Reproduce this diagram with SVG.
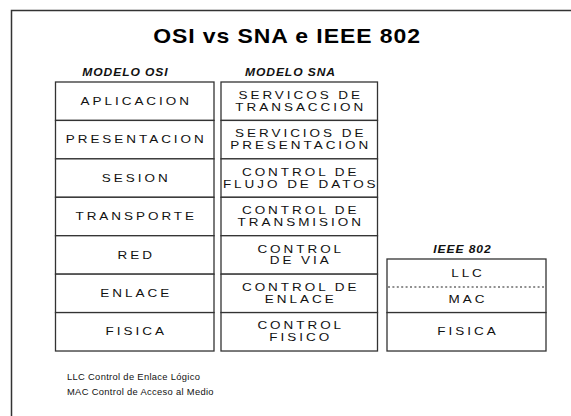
<svg xmlns="http://www.w3.org/2000/svg" width="571" height="416" viewBox="0 0 571 416">
<style>
.bg{fill:#fff}
.frame{fill:none;stroke:#333;stroke-width:1.5}
.cell{fill:#fff;stroke:#333;stroke-width:1.3}
.dot{stroke:#222;stroke-width:1.2;stroke-dasharray:2 2.4;fill:none}
.t{font-family:"Liberation Sans",Arial,sans-serif;font-size:10px;letter-spacing:2.2px;fill:#111;text-anchor:middle}
.h{font-family:"Liberation Sans",Arial,sans-serif;font-size:10.5px;font-weight:bold;font-style:italic;letter-spacing:0.8px;fill:#111;text-anchor:middle}
.title{font-family:"Liberation Sans",Arial,sans-serif;font-size:20px;font-weight:bold;letter-spacing:0.8px;fill:#000;text-anchor:middle}
.f{font-family:"Liberation Sans",Arial,sans-serif;font-size:8.5px;letter-spacing:0.3px;fill:#111}
</style>
<rect class="bg" x="0" y="0" width="571" height="416"/>
<path class="frame" d="M11.5,416 V10.5 H571"/>
<text class="title" transform="translate(287,43) scale(1.15,1)">OSI vs SNA e IEEE 802</text>

<g id="osi">
<text class="h" transform="translate(125,76) scale(1.15,1)" x="0.4">MODELO OSI</text>
<g id="osi-aplicacion"><rect class="cell" x="55.5" y="82" width="158.5" height="38.43"/><text class="t" transform="translate(134.75,104.8) scale(1.35,1)" x="1.1">APLICACION</text></g>
<g id="osi-presentacion"><rect class="cell" x="55.5" y="120.43" width="158.5" height="38.43"/><text class="t" transform="translate(134.75,143.25) scale(1.35,1)" x="1.1">PRESENTACION</text></g>
<g id="osi-sesion"><rect class="cell" x="55.5" y="158.86" width="158.5" height="38.43"/><text class="t" transform="translate(134.75,181.7) scale(1.35,1)" x="1.1">SESION</text></g>
<g id="osi-transporte"><rect class="cell" x="55.5" y="197.29" width="158.5" height="38.43"/><text class="t" transform="translate(134.75,220.1) scale(1.35,1)" x="1.1">TRANSPORTE</text></g>
<g id="osi-red"><rect class="cell" x="55.5" y="235.72" width="158.5" height="38.43"/><text class="t" transform="translate(134.75,258.5) scale(1.35,1)" x="1.1">RED</text></g>
<g id="osi-enlace"><rect class="cell" x="55.5" y="274.15" width="158.5" height="38.43"/><text class="t" transform="translate(134.75,296.95) scale(1.35,1)" x="1.1">ENLACE</text></g>
<g id="osi-fisica"><rect class="cell" x="55.5" y="312.58" width="158.5" height="38.43"/><text class="t" transform="translate(134.75,335.4) scale(1.35,1)" x="1.1">FISICA</text></g>
</g>

<g id="sna">
<text class="h" transform="translate(290,76) scale(1.15,1)" x="0.4">MODELO SNA</text>
<g id="sna-transaccion"><rect class="cell" x="221" y="82" width="156.5" height="38.43"/><text class="t" transform="translate(299.25,98.8) scale(1.35,1)" x="1.1">SERVICOS DE</text><text class="t" transform="translate(299.25,110.6) scale(1.35,1)" x="1.1">TRANSACCION</text></g>
<g id="sna-presentacion"><rect class="cell" x="221" y="120.43" width="156.5" height="38.43"/><text class="t" transform="translate(299.25,137.25) scale(1.35,1)" x="1.1">SERVICIOS DE</text><text class="t" transform="translate(299.25,149.05) scale(1.35,1)" x="1.1">PRESENTACION</text></g>
<g id="sna-flujo"><rect class="cell" x="221" y="158.86" width="156.5" height="38.43"/><text class="t" transform="translate(299.25,175.7) scale(1.35,1)" x="1.1">CONTROL DE</text><text class="t" transform="translate(299.25,187.5) scale(1.35,1)" x="1.1">FLUJO DE DATOS</text></g>
<g id="sna-transmision"><rect class="cell" x="221" y="197.29" width="156.5" height="38.43"/><text class="t" transform="translate(299.25,214.1) scale(1.35,1)" x="1.1">CONTROL DE</text><text class="t" transform="translate(299.25,225.9) scale(1.35,1)" x="1.1">TRANSMISION</text></g>
<g id="sna-via"><rect class="cell" x="221" y="235.72" width="156.5" height="38.43"/><text class="t" transform="translate(299.25,252.5) scale(1.35,1)" x="1.1">CONTROL</text><text class="t" transform="translate(299.25,264.3) scale(1.35,1)" x="1.1">DE  VIA</text></g>
<g id="sna-enlace"><rect class="cell" x="221" y="274.15" width="156.5" height="38.43"/><text class="t" transform="translate(299.25,290.95) scale(1.35,1)" x="1.1">CONTROL DE</text><text class="t" transform="translate(299.25,302.75) scale(1.35,1)" x="1.1">ENLACE</text></g>
<g id="sna-fisico"><rect class="cell" x="221" y="312.58" width="156.5" height="38.43"/><text class="t" transform="translate(299.25,329.4) scale(1.35,1)" x="1.1">CONTROL</text><text class="t" transform="translate(299.25,341.2) scale(1.35,1)" x="1.1">FISICO</text></g>
</g>

<g id="ieee">
<text class="h" transform="translate(462,253) scale(1.15,1)" x="0.4">IEEE 802</text>
<g id="ieee-llc-mac"><rect class="cell" x="387" y="259" width="159" height="53.58"/><text class="t" transform="translate(466.5,276.5) scale(1.35,1)" x="1.1">LLC</text><text class="t" transform="translate(466.5,303.3) scale(1.35,1)" x="1.1">MAC</text></g>
<g id="ieee-fisica"><rect class="cell" x="387" y="312.58" width="159" height="38.43"/><text class="t" transform="translate(466.5,335.4) scale(1.35,1)" x="1.1">FISICA</text></g>
</g>

<g id="connectors">
<line class="dot" x1="388" y1="287" x2="546" y2="287"/>
</g>

<g id="legend">
<text class="f" transform="translate(67,379.5) scale(1.1,1)">LLC Control de Enlace Lógico</text>
<text class="f" transform="translate(67,394.7) scale(1.1,1)">MAC Control de Acceso al Medio</text>
</g>
</svg>
